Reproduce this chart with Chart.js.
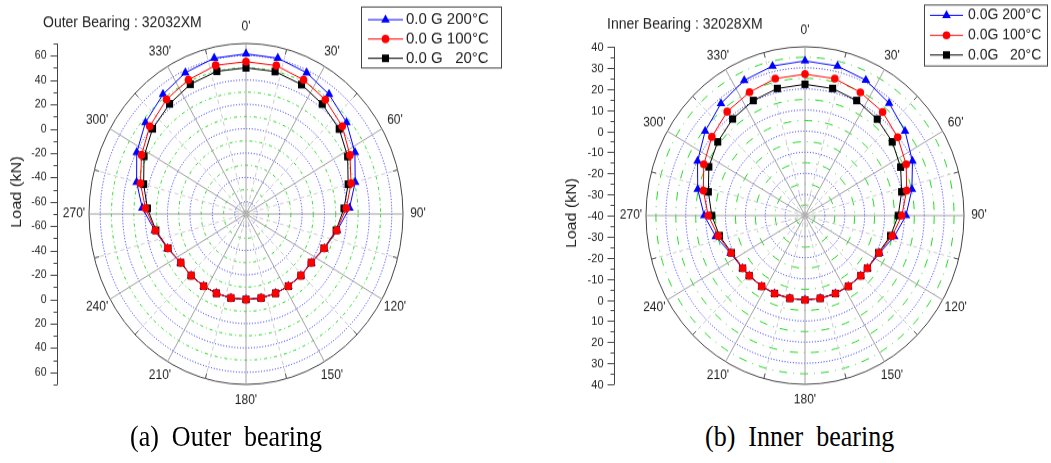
<!DOCTYPE html>
<html>
<head>
<meta charset="utf-8">
<script src="https://cdn.jsdelivr.net/npm/chart.js@4.4.1/dist/chart.umd.min.js"></script>
<style>
  html, body { margin: 0; padding: 0; background: #fff; }
  #page { position: relative; width: 1051px; height: 463px; overflow: hidden; background: #fff; }
  .wrap { position: absolute; top: 0; transform-origin: 0 0; }
  .wrap canvas { display: block; }
  .cap { position: absolute; top: 422px; line-height: 30px; font-family: "Liberation Serif", "Times New Roman", serif; font-size: 26px; color: #000; white-space: pre; transform: scaleY(1.15); transform-origin: 0 50%; }
</style>
</head>
<body>
<div id="page">
  <div class="wrap" id="w1" style="left:0px"><canvas id="c1" width="525" height="390"></canvas></div>
  <div class="wrap" id="w2" style="left:525px"><canvas id="c2" width="526" height="390"></canvas></div>
  <div class="cap" style="left:130px">(a)  Outer  bearing</div>
  <div class="cap" style="left:705px">(b)  Inner  bearing</div>
</div>
<script>
// roller angles (deg, clockwise from top) and loads (kN)
const outerAngles = [0, 12.4, 24.8, 37.2, 50, 62.3, 74.8, 87, 99.6, 112, 124.3, 136.2, 147.3, 158, 169, 180, 191, 202, 212.7, 223.8, 235.7, 248, 260.4, 273, 285.2, 297.7, 310, 322.8, 335.2, 347.6];
const outer200 = [61.5, 61, 58, 53, 47, 39.5, 30.8, 22.4, 12.5, 5.5, 0.8, 0.5, 0.3, 0.3, 0.3, 0.2, 0.3, 0.3, 0.3, 0.5, 0.8, 5.5, 12.5, 22.6, 31, 39.8, 47, 53, 58, 61];
const outer100 = [55, 54.8, 51.5, 47.5, 42, 34.5, 27, 19.5, 12, 5.2, 0.6, 0.4, 0.3, 0.3, 0.3, 0.2, 0.3, 0.3, 0.3, 0.4, 0.6, 5.2, 12, 19.8, 27.5, 35, 42, 47.8, 51.5, 55];
const outer20 = [50, 49.8, 47.2, 43, 38.5, 32.2, 24.3, 17.5, 11.5, 5, 0.6, 0.4, 0.3, 0.3, 0.3, 0.2, 0.3, 0.3, 0.3, 0.4, 0.6, 5, 11.5, 18, 24.5, 32.5, 38.8, 43.2, 47.5, 50];

const innerAngles = [0, 12.9, 25.7, 38.6, 51.4, 64.3, 77.1, 90, 102.6, 115.6, 128.5, 135.7, 146.8, 157.6, 169, 180, 191, 202.4, 213.2, 224.3, 231.5, 244.4, 257.4, 270, 282.9, 295.7, 308.6, 321.4, 334.3, 347.1];
const inner200 = [33.3, 32.7, 31.1, 28, 24.3, 19.9, 15.2, 10.8, 6, 1.5, 0.2, 0, 0, 0, 0, 0, 0, 0, 0, 0, 0.2, 1.5, 6, 10.7, 15.4, 19.9, 24.2, 27.9, 31, 32.7];
const inner100 = [27, 26.6, 24.7, 22.7, 19.6, 16.4, 12.5, 8.7, 4.9, 1.2, 0.1, 0, 0, 0, 0, 0, 0, 0, 0, 0, 0.1, 1.2, 4.7, 8.7, 12.5, 16.4, 19.9, 22.9, 24.8, 26.6];
const inner20 = [22.2, 21.8, 20.4, 18.4, 16.1, 13.3, 9.9, 6.9, 4.1, 1, 0.1, 0, 0, 0, 0, 0, 0, 0, 0, 0, 0.1, 1, 4.1, 6.9, 9.9, 13.6, 16.1, 18.5, 20.4, 21.8];

const angleTicks = [0, 30, 60, 90, 120, 150, 180, 210, 240, 270, 300, 330];
const outerLegend = ['0.0 G 200°C', '0.0 G 100°C', '0.0 G   20°C'];
const innerLegend = ['0.0G 200°C', '0.0G 100°C', '0.0G   20°C'];

const STEPS = 720; // half-degree slots round the circle
const FONT = 'Arial, "Liberation Sans", sans-serif';

function toSlots(angles, values) {
    const arr = new Array(STEPS).fill(null);
    angles.forEach((a, i) => { arr[Math.round(a * STEPS / 360) % STEPS] = values[i]; });
    return arr;
}

function marker(ctx, style, r, x, y) {
    if (Chart.helpers && Chart.helpers.drawPoint) {
        Chart.helpers.drawPoint(ctx, { pointStyle: style, radius: r, rotation: 0, borderWidth: 0 }, x, y);
        return;
    }
    ctx.beginPath(); ctx.arc(x, y, r, 0, Math.PI * 2); ctx.fill();
}

function decor(cfg) {
    const S = cfg.S;
    return {
        id: 'decor',
        afterDraw(chart) {
            const ctx = chart.ctx, sc = chart.scales.r;
            const R = sc.drawingArea, yc = sc.yCenter;
            ctx.save();
            ctx.strokeStyle = '#555'; ctx.lineWidth = 1;
            // small rim ticks between the labelled angles
            for (let a = 15; a < 360; a += 30) {
                const p1 = sc.getPointPosition(a * STEPS / 360, R);
                const p2 = sc.getPointPosition(a * STEPS / 360, R - 5);
                ctx.beginPath(); ctx.moveTo(p1.x, p1.y); ctx.lineTo(p2.x, p2.y); ctx.stroke();
            }
            // angle labels
            ctx.fillStyle = '#222';
            ctx.font = '12px ' + FONT;
            ctx.textAlign = 'center'; ctx.textBaseline = 'middle';
            angleTicks.forEach(a => {
                const p = sc.getPointPosition(a * STEPS / 360, R + 15);
                ctx.fillText(a + "'", p.x, p.y);
            });
            // load axis on the left, mirrored about the centre
            const ax = cfg.axisX + 0.5;
            ctx.strokeStyle = '#444';
            ctx.beginPath(); ctx.moveTo(ax, yc - R); ctx.lineTo(ax, yc + R); ctx.stroke();
            ctx.textAlign = 'right';
            ctx.font = cfg.tickFont + 'px ' + FONT;
            for (let v = sc.min; v <= sc.max; v += cfg.minor) {
                const d = sc.getDistanceFromCenterForValue(v);
                const major = v % cfg.major === 0;
                const len = major ? 7 : 4;
                [-1, 1].forEach(sgn => {
                    if (d === 0 && sgn > 0) return;
                    const y = Math.round(yc + sgn * d) + 0.5;
                    ctx.beginPath(); ctx.moveTo(ax - len, y); ctx.lineTo(ax, y); ctx.stroke();
                    if (major) ctx.fillText(String(v), ax - 11, y);
                });
            }
            // axis title
            ctx.save();
            ctx.translate(cfg.ylabX, cfg.ylabY / S);
            ctx.rotate(-Math.PI / 2);
            ctx.textAlign = 'center';
            ctx.font = '15px ' + FONT;
            ctx.fillText('Load (kN)', 0, 0);
            ctx.restore();
            // chart title
            ctx.textAlign = 'left';
            ctx.font = '14px ' + FONT;
            ctx.fillText(cfg.title, cfg.titleX, cfg.titleY / S);
            // legend box
            const L = cfg.legend;
            ctx.strokeStyle = '#444';
            ctx.strokeRect(L.x + 0.5, L.y / S, L.w, L.h / S);
            ctx.font = L.font + 'px ' + FONT;
            [0, 1, 2].forEach(i => {
                const dset = chart.data.datasets[i];
                const y = L.rows[i] / S;
                ctx.strokeStyle = dset.borderColor; ctx.fillStyle = dset.borderColor;
                ctx.beginPath(); ctx.moveTo(L.l1, y); ctx.lineTo(L.l2, y); ctx.stroke();
                marker(ctx, dset.pointStyle, dset.pointRadius, (L.l1 + L.l2) / 2, y);
                ctx.fillStyle = '#222';
                ctx.fillText(dset.label, L.tx, y);
            });
            ctx.restore();
        }
    };
}

function makeChart(canvasId, wrapId, cfg, angles, s200, s100, s20, names) {
    document.getElementById(wrapId).style.transform = 'scaleY(' + cfg.S + ')';
    const ds = (label, data, color, style, rad, order) => ({
        label, data: toSlots(angles, data), borderColor: color, backgroundColor: color,
        pointBackgroundColor: color, pointBorderColor: color, pointBorderWidth: 0,
        pointStyle: style, pointRadius: rad, borderWidth: 1, fill: false, spanGaps: true, order
    });
    const isTick = c => c && c.tick;
    return new Chart(document.getElementById(canvasId), {
        type: 'radar',
        data: {
            labels: Array.from({ length: STEPS }, () => ''),
            datasets: [
                ds(names[0], s200, '#0000ff', 'triangle', 5, 2),
                ds(names[1], s100, '#ff0000', 'circle', 3.8, 0),
                ds(names[2], s20, '#000000', 'rect', 5, 1)
            ]
        },
        options: {
            responsive: false,
            animation: false,
            devicePixelRatio: 1,
            layout: { padding: cfg.pad },
            plugins: { legend: { display: false }, tooltip: { enabled: false }, title: { display: false } },
            elements: { line: { tension: 0 } },
            scales: {
                r: {
                    min: cfg.min, max: cfg.max,
                    startAngle: 0,
                    ticks: { display: false, stepSize: cfg.minor },
                    pointLabels: { display: false },
                    grid: {
                        circular: true,
                        lineWidth: 1,
                        color: c => {
                            if (!isTick(c)) return '#444';
                            const v = c.tick.value;
                            if (v === cfg.min) return 'rgba(0,0,0,0)';
                            if (v === cfg.max) return '#444';
                            return v % cfg.major === 0 ? '#1f1fff' : '#1edc1e';
                        }
                    },
                    border: {
                        dash: c => {
                            if (!isTick(c)) return [];
                            const v = c.tick.value;
                            if (v === cfg.max) return [];
                            return v % cfg.major === 0 ? [1, 1.8] : cfg.greenDash;
                        }
                    },
                    angleLines: {
                        color: c => (c.index % 60 === 0 ? '#a0a0a0' : (c.index % 30 === 0 ? '#cccccc' : 'rgba(0,0,0,0)')),
                        lineWidth: c => (c.index % 30 === 0 ? 1 : 0),
                        borderDash: c => (c.index % 60 === 0 ? [] : [4, 3])
                    }
                }
            }
        },
        plugins: [decor(cfg)]
    });
}

makeChart('c1', 'w1', {
    S: 1.086, min: -70, max: 70, major: 20, minor: 10, greenDash: [3, 3, 1, 3],
    pad: { left: 89, top: 40, right: 122, bottom: 36 },
    axisX: 57, tickFont: 10.5, ylabX: 17, ylabY: 192,
    title: 'Outer Bearing : 32032XM', titleX: 43, titleY: 23,
    legend: { x: 361, y: 7, w: 140, h: 61, rows: [19.7, 39, 58.3], l1: 368, l2: 403, tx: 406, font: 15 }
}, outerAngles, outer200, outer100, outer20, outerLegend);

makeChart('c2', 'w2', {
    S: 1.0616, min: -40, max: 40, major: 10, minor: 5, greenDash: [8, 6, 1, 6],
    pad: { left: 121, top: 44, right: 87, bottom: 28 },
    axisX: 89, tickFont: 11, ylabX: 47, ylabY: 213,
    title: 'Inner Bearing : 32028XM', titleX: 82, titleY: 25,
    legend: { x: 399, y: 5, w: 123, h: 61, rows: [15.3, 35.3, 55], l1: 405, l2: 438, tx: 443, font: 14 }
}, innerAngles, inner200, inner100, inner20, innerLegend);
</script>
</body>
</html>
